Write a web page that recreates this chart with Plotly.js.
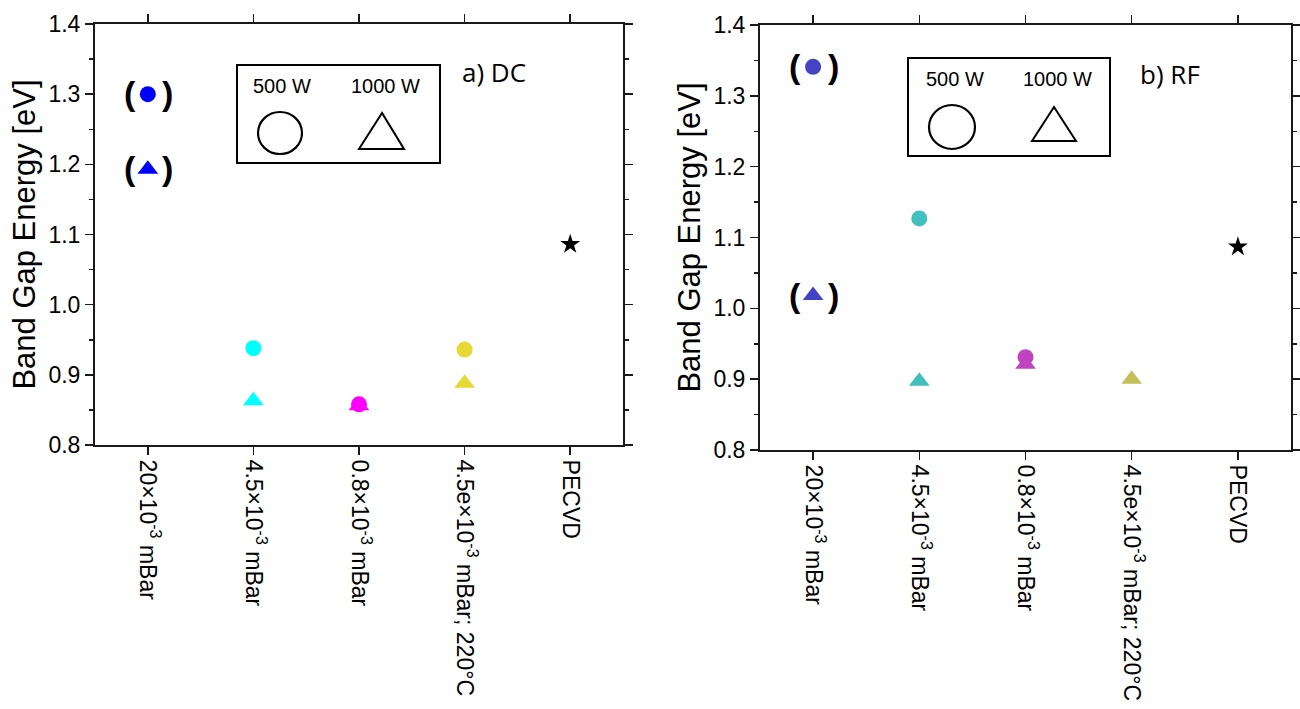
<!DOCTYPE html>
<html>
<head>
<meta charset="utf-8">
<script src="https://cdn.plot.ly/plotly-3.0.1.min.js"></script>
<style>html,body{margin:0;padding:0;background:#fff;}#chart{width:1300px;height:709px;}</style>
</head>
<body>
<div id="chart"></div>
<script>
// ---- data ----
const categories = ['20×10<sup>-3</sup> mBar', '4.5×10<sup>-3</sup> mBar', '0.8×10<sup>-3</sup> mBar', '4.5e×10<sup>-3</sup> mBar; 220°C', 'PECVD'];
const dc500  = [1.300, 0.938, 0.858, 0.936, null];
const dc1000 = [1.193, 0.863, 0.856, 0.888, null];
const dcPecvd = [null, null, null, null, 1.086];
const rf500  = [1.341, 1.127, 0.931, null, null];
const rf1000 = [1.018, 0.897, 0.921, 0.900, null];
const rfPecvd = [null, null, null, null, 1.087];
const dcColors = ['#0000ff', '#00ffff', '#ff00ff', '#e6d936', '#000000'];
const rfColors = ['#4343c4', '#43bfc0', '#c043bf', '#c4c05a', '#000000'];
const legendLabels = ['500 W', '1000 W'];
const panelLabels = ['a) DC', 'b) RF'];
const yTitle = 'Band Gap Energy [eV]';

// ---- helpers ----
const W = 1300, H = 709;
const px = v => v / W;
const py = v => 1 - v / H;
const FONT = 'Liberation Sans, Arial, sans-serif';

function tri(xa, ya, sym, vals, colors, size) {
  return {
    type: 'scatter', mode: 'markers', x: categories, y: vals,
    xaxis: xa, yaxis: ya, showlegend: false, hoverinfo: 'skip',
    marker: {symbol: sym, size: size, color: colors, line: {width: 0}}
  };
}

const traces = [
  tri('x', 'y', 'triangle-up', dc1000, dcColors, 18),
  tri('x', 'y', 'circle', dc500, dcColors, 16),
  tri('x', 'y', 'star', dcPecvd, dcColors, 15),
  tri('x2', 'y2', 'triangle-up', rf1000, rfColors, 18),
  tri('x2', 'y2', 'circle', rf500, rfColors, 16),
  tri('x2', 'y2', 'star', rfPecvd, rfColors, 15)
];

function xax(domain, anchor) {
  return {
    domain: domain, anchor: anchor, type: 'category', range: [-0.5, 4.5],
    showline: true, linecolor: '#1a1a1a', linewidth: 2, mirror: 'ticks',
    ticks: 'outside', ticklen: 8, tickwidth: 1.5, tickcolor: '#1a1a1a',
    tickangle: 90, showgrid: false, zeroline: false,
    tickfont: {family: FONT, size: 23, color: '#000'}, automargin: false
  };
}
function yax(domain, anchor) {
  return {
    domain: domain, anchor: anchor, range: [0.8, 1.4], dtick: 0.1, tickformat: '.1f',
    showline: true, linecolor: '#1a1a1a', linewidth: 2, mirror: 'ticks',
    ticks: 'outside', ticklen: 8, tickwidth: 1.5, tickcolor: '#1a1a1a',
    minor: {dtick: 0.05, ticks: 'outside', ticklen: 4, tickwidth: 1.5, tickcolor: '#1a1a1a'},
    showgrid: false, zeroline: false,
    tickfont: {family: FONT, size: 23, color: '#000'},
    title: {text: yTitle, font: {family: FONT, size: 31, color: '#000'}, standoff: 4},
    automargin: false
  };
}

// legend boxes (layout decorations) in pixel -> paper coords
function legendShapes(box, circ, triPts) {
  return [
    {type: 'rect', xref: 'paper', yref: 'paper', x0: px(box[0]), x1: px(box[2]), y0: py(box[3]), y1: py(box[1]),
     line: {color: '#000', width: 2}, fillcolor: 'rgba(0,0,0,0)'},
    {type: 'circle', xref: 'paper', yref: 'paper', x0: px(circ[0]), x1: px(circ[2]), y0: py(circ[3]), y1: py(circ[1]),
     line: {color: '#000', width: 2.2}},
    {type: 'path', xref: 'paper', yref: 'paper',
     path: 'M ' + px(triPts[0]) + ' ' + py(triPts[1]) + ' L ' + px(triPts[2]) + ' ' + py(triPts[3]) + ' L ' + px(triPts[4]) + ' ' + py(triPts[5]) + ' Z',
     line: {color: '#000', width: 2}}
  ];
}
const shapes = [].concat(
  legendShapes([237, 65, 440, 163], [258, 112, 302, 154], [382, 113, 359, 149, 404, 149]),
  legendShapes([908, 58, 1110, 156], [929, 105, 975, 149], [1054, 107, 1032, 141, 1076, 141])
);

function txt(x, y, t, size, family) {
  return {xref: 'paper', yref: 'paper', x: px(x), y: py(y), text: t, showarrow: false,
          xanchor: 'center', yanchor: 'middle', font: {family: family || FONT, size: size, color: '#000'}};
}
function paren(xa, ya, yv) {
  const f = {family: FONT, size: 34, color: '#000', weight: 'bold'};
  return [
    {xref: xa, yref: ya, x: categories[0], y: yv, text: '<b>(</b>', showarrow: false, xshift: -18, yshift: 1, font: f},
    {xref: xa, yref: ya, x: categories[0], y: yv, text: '<b>)</b>', showarrow: false, xshift: 20, yshift: 1, font: f}
  ];
}
const annotations = [].concat(
  [txt(282, 86, legendLabels[0], 20), txt(385, 86, legendLabels[1], 20),
   txt(955, 79, legendLabels[0], 20), txt(1057, 79, legendLabels[1], 20),
   txt(494, 72, panelLabels[0], 26, 'Open Sans, sans-serif'),
   txt(1170, 74, panelLabels[1], 26, 'Open Sans, sans-serif')],
  paren('x', 'y', dc500[0]), paren('x', 'y', dc1000[0]),
  paren('x2', 'y2', rf500[0]), paren('x2', 'y2', rf1000[0])
);

const layout = {
  width: W, height: H,
  margin: {l: 0, r: 0, t: 0, b: 0},
  paper_bgcolor: '#fff', plot_bgcolor: '#fff',
  showlegend: false,
  xaxis: xax([px(95), px(623)], 'y'),
  yaxis: yax([1 - 445 / H, 1 - 24 / H], 'x'),
  xaxis2: xax([px(760), px(1291)], 'y2'),
  yaxis2: yax([1 - 450 / H, 1 - 25 / H], 'x2'),
  shapes: shapes,
  annotations: annotations
};

Plotly.newPlot('chart', traces, layout, {displayModeBar: false, staticPlot: true});
</script>
</body>
</html>
